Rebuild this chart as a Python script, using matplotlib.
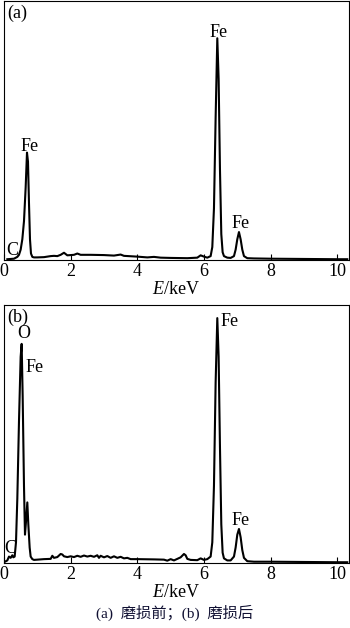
import matplotlib
matplotlib.use("Agg")
import matplotlib.pyplot as plt

plt.rcParams['font.family'] = ['Liberation Serif', 'Noto Sans CJK SC']
plt.rcParams['mathtext.fontset'] = 'custom'
plt.rcParams['mathtext.it'] = 'Liberation Serif:italic'
plt.rcParams['mathtext.rm'] = 'Liberation Serif'

# (a) before wear: energy (keV) and counts (% of axis height)
energy_a = [0.1, 0.3, 0.4, 0.45, 0.5, 0.55, 0.6, 0.65, 0.69, 0.72, 0.75, 0.78, 0.81,
            0.85, 0.9, 1.0, 1.2, 1.4, 1.5, 1.6, 1.7, 1.8, 1.9, 2.0, 2.1, 2.2, 2.3,
            2.6, 3.0, 3.3, 3.5, 3.6, 4.0, 4.3, 4.5, 4.7, 5.0, 5.5, 5.8, 5.9, 6.0,
            6.1, 6.2, 6.25, 6.3, 6.35, 6.4, 6.44, 6.48, 6.52, 6.56, 6.6, 6.7, 6.8,
            6.9, 6.95, 7.0, 7.05, 7.1, 7.15, 7.2, 7.3, 7.5, 8.0, 9.0, 10.0, 10.3]
counts_a = [0.3, 0.5, 1.2, 2.0, 4.0, 8.0, 15.0, 28.0, 41.5, 38.0, 22.0, 8.0, 2.5,
            1.2, 1.0, 1.0, 1.1, 1.5, 1.6, 1.5, 2.0, 2.8, 1.8, 1.9, 2.0, 2.5, 2.0,
            2.0, 1.9, 1.7, 2.1, 1.6, 1.3, 1.0, 1.2, 0.9, 0.8, 0.7, 0.9, 1.8, 1.3,
            0.9, 1.5, 5.0, 20.0, 55.0, 85.7, 70.0, 35.0, 10.0, 3.0, 1.5, 0.9, 0.8,
            1.5, 4.0, 8.0, 10.8, 8.0, 4.0, 1.5, 0.7, 0.6, 0.5, 0.4, 0.3, 0.3]

# (b) after wear
energy_b = [0.03, 0.1, 0.15, 0.2, 0.25, 0.28, 0.32, 0.36, 0.4, 0.45, 0.5, 0.53, 0.56,
            0.6, 0.63, 0.66, 0.7, 0.73, 0.77, 0.8, 0.85, 0.9, 1.0, 1.2, 1.4, 1.45,
            1.5, 1.6, 1.7, 1.75, 1.8, 1.9, 2.0, 2.1, 2.2, 2.3, 2.4, 2.5, 2.6, 2.7,
            2.8, 2.85, 2.9, 3.0, 3.1, 3.2, 3.3, 3.4, 3.5, 3.6, 3.7, 3.8, 4.0, 4.5,
            4.8, 4.9, 5.0, 5.1, 5.2, 5.3, 5.4, 5.45, 5.5, 5.6, 5.8, 5.9, 6.0, 6.1,
            6.2, 6.25, 6.3, 6.35, 6.4, 6.44, 6.48, 6.52, 6.56, 6.6, 6.7, 6.8, 6.9,
            6.95, 7.0, 7.05, 7.1, 7.15, 7.2, 7.3, 7.5, 8.0, 9.0, 10.0, 10.3]
counts_b = [0.5, 1.0, 2.5, 2.0, 3.0, 2.2, 2.5, 8.0, 25.0, 55.0, 80.0, 85.0, 65.0,
            30.0, 11.0, 16.0, 23.5, 15.0, 6.0, 2.5, 1.5, 1.2, 1.3, 1.5, 1.6, 2.8,
            2.0, 2.3, 3.5, 3.3, 2.6, 2.3, 2.6, 2.3, 2.8, 2.4, 2.9, 2.5, 2.8, 2.4,
            3.0, 2.0, 2.8, 2.2, 2.7, 2.0, 2.6, 2.0, 2.4, 1.8, 2.0, 1.5, 1.5, 1.4,
            1.3, 0.9, 1.5, 1.0, 1.6, 2.2, 3.5, 3.0, 1.6, 1.2, 1.1, 1.8, 1.2, 1.5,
            2.5, 8.0, 30.0, 70.0, 95.0, 80.0, 45.0, 15.0, 4.0, 1.8, 1.0, 1.0, 2.5,
            6.0, 11.0, 13.2, 10.0, 5.0, 2.0, 0.7, 0.5, 0.5, 0.4, 0.3, 0.3]

# peak labels: (text, x, y)
labels_a = [("C", 0.24, 3.5), ("Fe", 0.78, 44.0), ("Fe", 6.45, 88.0), ("Fe", 7.1, 14.0)]
labels_b = [("C", 0.18, 5.8), ("O", 0.6, 89.0), ("Fe", 0.92, 76.0),
            ("Fe", 6.78, 93.8), ("Fe", 7.1, 16.3)]

xticks = [0, 2, 4, 6, 8, 10]

fig = plt.figure(figsize=(3.5, 6.28), dpi=100)
ax_a = fig.add_axes([0.0114, 0.586, 0.9856, 0.412])
ax_b = fig.add_axes([0.0114, 0.1035, 0.9856, 0.4105])

for ax, x, y, labels, tag in [(ax_a, energy_a, counts_a, labels_a, "(a)"),
                              (ax_b, energy_b, counts_b, labels_b, "(b)")]:
    ax.plot(x, y, color="black", lw=1.5)
    ax.set_xlim(0, 10.35)
    ax.set_ylim(0, 100)
    ax.set_yticks([])
    ax.set_xticks(xticks)
    ax.tick_params(axis="x", direction="in", length=4, width=0.8, labelsize=13, pad=2)
    for s in ax.spines.values():
        s.set_linewidth(0.8)
    for txt, tx, ty in labels:
        ax.text(tx, ty, txt, fontsize=13, ha="center", va="center")
    ax.text(0.01, 0.985, tag, transform=ax.transAxes, fontsize=13, ha="left", va="top")
    ax.set_xlabel(r"$E$/keV", fontsize=13, labelpad=1)

fig.text(0.5, 0.024, "(a)  磨损前；(b)  磨损后", fontsize=11, ha="center", va="center",
         color="#111133")

fig.savefig("out.png", dpi=100)
